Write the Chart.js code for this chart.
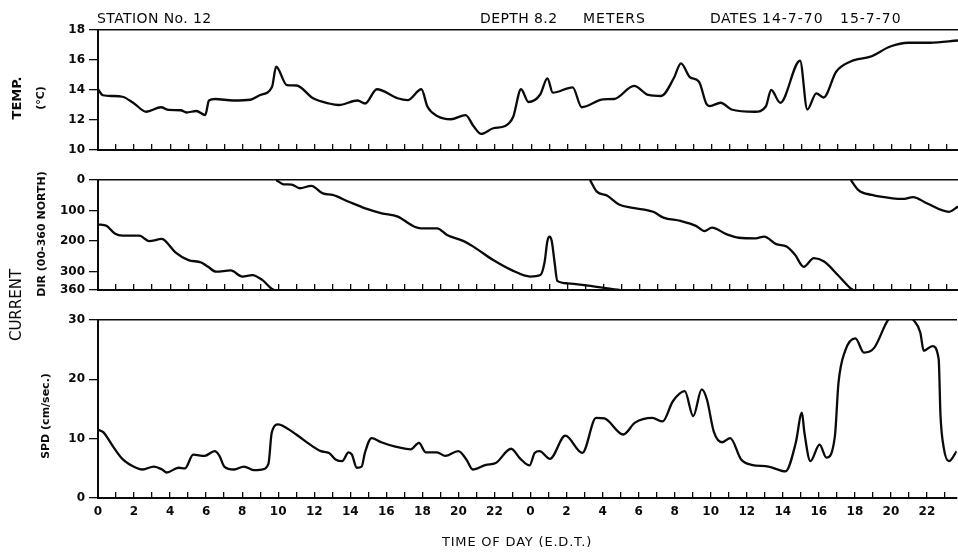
<!DOCTYPE html>
<html>
<head>
<meta charset="utf-8">
<script src="https://cdn.jsdelivr.net/npm/chart.js@4/dist/chart.umd.min.js"></script>
<style>
  html, body { margin: 0; padding: 0; background: #fff; }
  #wrap { position: relative; width: 958px; height: 553px; overflow: hidden; background: #fff; }
  canvas { position: absolute; left: 0; }
  .t { position: absolute; white-space: pre; color: #0a0a0a; font-family: "DejaVu Sans", sans-serif; line-height: 1; }
  .rot { transform: translate(-50%, -50%) rotate(-90deg); }
  .mid { transform: translateY(-50%); }
  .hd { font-size: 14px; letter-spacing: 0.4px; }
</style>
</head>
<body>
<div id="wrap">
  <canvas id="cTemp" width="958" height="165" style="top:0px"></canvas>
  <canvas id="cDir" width="958" height="140" style="top:165px"></canvas>
  <canvas id="cSpd" width="958" height="248" style="top:305px"></canvas>

  <div class="t mid hd" style="left:97px;top:18px;">STATION No. 12</div>
  <div class="t mid hd" style="left:480px;top:18px;">DEPTH 8.2</div>
  <div class="t mid hd" style="left:583px;top:18px;letter-spacing:1px;">METERS</div>
  <div class="t mid hd" style="left:710px;top:18px;">DATES</div>
  <div class="t mid hd" style="left:762px;top:18px;letter-spacing:1px;">14-7-70</div>
  <div class="t mid hd" style="left:840px;top:18px;letter-spacing:1px;">15-7-70</div>

  <div class="t rot" style="left:16px;top:98px;font-size:13px;font-weight:bold;">TEMP.</div>
  <div class="t rot" style="left:40px;top:98px;font-size:11px;font-weight:bold;">(°C)</div>
  <div class="t rot" style="left:16px;top:305px;font-size:15px;">CURRENT</div>
  <div class="t rot" style="left:41px;top:234px;font-size:11px;font-weight:bold;">DIR (00-360 NORTH)</div>
  <div class="t rot" style="left:45px;top:416px;font-size:11px;font-weight:bold;">SPD (cm/sec.)</div>

  <div class="t mid" style="left:442px;top:541px;font-size:13px;letter-spacing:0.8px;">TIME OF DAY (E.D.T.)</div>
</div>
<script>
// ---------------- DATA ----------------
const hourMin = 0;
const hourMax = 47.65;

// Temperature (°C)
const tempHours = [0, 0.27, 0.8, 1.36, 2.0, 2.67, 3.49, 3.92, 4.58, 4.9, 5.45, 5.94, 6.15, 6.48, 7.5, 8.44, 8.99, 9.64, 9.87, 10.46, 11.0, 11.92, 12.8, 13.34, 14.38, 14.8, 15.45, 16.6, 17.16, 17.92, 18.25, 18.79, 19.55, 20.37, 20.8, 21.24, 21.9, 22.56, 23.0, 23.44, 23.85, 24.5, 24.9, 25.2, 26.3, 26.8, 28.0, 28.6, 29.7, 30.5, 31.2, 31.9, 32.3, 32.8, 33.3, 33.7, 33.9, 34.5, 35.1, 36.4, 37.0, 37.3, 37.8, 38.9, 39.3, 39.8, 40.2, 40.9, 41.7, 42.8, 43.9, 44.9, 46.1, 47.65];
const tempValues = [14.05, 13.65, 13.6, 13.55, 13.1, 12.55, 12.85, 12.67, 12.65, 12.5, 12.6, 12.33, 13.3, 13.4, 13.3, 13.35, 13.67, 14.2, 15.55, 14.33, 14.3, 13.45, 13.1, 13.0, 13.3, 13.1, 14.05, 13.45, 13.33, 14.05, 12.9, 12.27, 12.05, 12.33, 11.6, 11.07, 11.45, 11.6, 12.2, 14.05, 13.2, 13.7, 14.78, 13.82, 14.18, 12.85, 13.38, 13.4, 14.27, 13.67, 13.6, 14.78, 15.78, 14.85, 14.55, 13.1, 12.93, 13.15, 12.7, 12.55, 12.9, 14.0, 13.15, 15.95, 12.7, 13.78, 13.5, 15.22, 15.9, 16.22, 16.9, 17.15, 17.15, 17.3];

// Current direction (degrees, 0-360 from north), wrapping segments
const dir1Hours = [0, 0.47, 0.93, 1.36, 2.29, 2.83, 3.54, 3.74, 4.29, 5.01, 5.72, 6.1, 6.54, 7.35, 8.0, 8.55, 9.1, 9.64, 9.8];
const dir1Values = [145, 150, 175, 182, 182, 200, 193, 200, 237, 262, 270, 284, 300, 296, 316, 311, 327, 357, 360];
const dir2Hours = [9.87, 10.28, 10.73, 11.18, 11.82, 12.46, 13.0, 13.89, 14.81, 15.72, 16.61, 17.54, 17.9, 18.79, 19.34, 20.26, 20.8, 21.9, 22.92, 23.95, 24.51, 24.74, 24.9, 25.02, 25.14, 25.3, 25.45, 26.03, 27.16, 28.49, 28.9];
const dir2Values = [0, 14, 15, 27, 19, 44, 49, 71, 93, 109, 120, 153, 158, 158, 180, 200, 218, 262, 295, 316, 311, 270, 200, 185, 200, 270, 330, 338, 346, 357, 360];
const dir3Hours = [27.26, 27.64, 28.2, 28.87, 29.63, 30.76, 31.33, 32.28, 33.13, 33.6, 34.02, 34.84, 35.5, 36.44, 36.91, 37.58, 38.15, 38.62, 39.1, 39.66, 40.23, 40.99, 41.65, 41.84];
const dir3Values = [0, 38, 51, 80, 91, 104, 123, 134, 150, 167, 156, 178, 189, 191, 185, 210, 218, 245, 284, 256, 267, 311, 352, 360];
const dir4Hours = [41.71, 42.13, 42.88, 44.02, 44.59, 45.16, 45.92, 47.15, 47.65];
const dir4Values = [0, 33, 49, 60, 62, 56, 76, 104, 87];

// Current speed (cm/sec)
const spdHours = [0, 0.29, 0.83, 1.38, 2.11, 2.47, 3.1, 3.56, 3.81, 4.47, 4.83, 5.28, 5.92, 6.47, 6.74, 7.01, 7.55, 8.1, 8.64, 9.1, 9.46, 9.64, 10.0, 10.46, 11.0, 11.91, 12.36, 12.82, 13.18, 13.55, 13.9, 14.09, 14.36, 14.63, 14.81, 15.18, 15.72, 16.45, 17.36, 17.81, 18.18, 18.81, 19.27, 19.99, 20.44, 20.8, 21.53, 22.07, 22.92, 23.44, 23.95, 24.23, 24.5, 25.08, 25.93, 26.88, 27.64, 28.1, 29.15, 29.8, 30.76, 31.33, 31.9, 32.56, 33.03, 33.5, 33.79, 34.17, 34.64, 35.08, 35.69, 36.26, 37.2, 38.15, 38.72, 39.06, 39.2, 39.53, 40.04, 40.42, 40.89, 41.09, 41.46, 42.03, 42.5, 43.07, 43.8, 44.5, 45.25, 45.63, 45.82, 46.3, 46.65, 46.75, 46.93, 47.22, 47.65];
const spdValues = [11.5, 11.1, 8.7, 6.5, 5.1, 4.8, 5.3, 4.8, 4.3, 5.1, 5.0, 7.3, 7.1, 7.9, 7.1, 5.3, 4.8, 5.3, 4.7, 4.8, 5.8, 11.0, 12.4, 11.8, 10.7, 8.7, 7.9, 7.6, 6.5, 6.2, 7.7, 7.3, 5.1, 5.3, 7.6, 10.1, 9.4, 8.7, 8.2, 9.3, 7.7, 7.7, 7.1, 7.9, 6.5, 4.8, 5.6, 5.9, 8.3, 6.6, 5.5, 7.6, 7.9, 6.6, 10.5, 7.6, 13.5, 13.4, 10.7, 12.7, 13.5, 12.9, 16.3, 18.0, 13.8, 18.3, 16.6, 11.2, 9.4, 10.1, 6.5, 5.6, 5.3, 4.5, 9.3, 14.4, 11.0, 6.2, 9.0, 6.8, 10.4, 19.4, 24.8, 26.9, 24.5, 25.3, 29.8, 32.0, 30.0, 27.9, 24.8, 25.6, 23.4, 14.0, 8.5, 6.2, 7.9];

// Tick values
const tempTicks = [10, 12, 14, 16, 18];
const dirTicks = [0, 100, 200, 300, 360];
const spdTicks = [0, 10, 20, 30];

// ---------------- RENDERING ----------------
const INK = '#0a0a0a';
const zip = (xs, ys) => xs.map((x, i) => ({ x: x, y: ys[i] }));

function lineSet(xs, ys) {
  return {
    data: zip(xs, ys),
    borderColor: INK,
    borderWidth: 2.3,
    pointRadius: 0,
    fill: false,
    cubicInterpolationMode: 'monotone',
    clip: 0
  };
}

function xAxis(height, showLabels) {
  return {
    type: 'linear',
    position: 'bottom',
    min: hourMin,
    max: hourMax,
    afterFit: s => { s.height = height; },
    afterBuildTicks: s => { s.ticks = s.ticks.filter(t => Number.isInteger(t.value)); },
    grid: { drawOnChartArea: false, drawTicks: true, tickLength: -6, color: INK, lineWidth: 1.3 },
    border: { display: true, color: INK, width: 2 },
    ticks: {
      display: showLabels,
      stepSize: 1,
      includeBounds: false,
      autoSkip: false,
      maxRotation: 0,
      minRotation: 0,
      padding: 13,
      color: INK,
      font: { family: '"DejaVu Sans", sans-serif', size: 12, weight: 'bold' },
      callback: v => (v % 2 === 0 ? String(v % 24) : '')
    }
  };
}

function topAxis() {
  return {
    type: 'linear',
    position: 'top',
    min: hourMin,
    max: hourMax,
    afterFit: s => { s.height = 0; },
    grid: { drawOnChartArea: false, drawTicks: false },
    border: { display: true, color: INK, width: 1.6 },
    ticks: { display: false }
  };
}

function yAxis(min, max, tickVals, reverse) {
  return {
    type: 'linear',
    min: min,
    max: max,
    reverse: !!reverse,
    afterFit: s => { s.width = 98; },
    afterBuildTicks: s => { s.ticks = tickVals.map(v => ({ value: v })); },
    grid: { drawOnChartArea: false, drawTicks: true, tickLength: 9, color: INK, lineWidth: 1.3 },
    border: { display: true, color: INK, width: 2 },
    ticks: {
      padding: 4,
      color: INK,
      autoSkip: false,
      font: { family: '"DejaVu Sans", sans-serif', size: 12, weight: 'bold' },
      callback: v => String(v)
    }
  };
}

function baseOptions(padTop, xHeight, showLabels, y) {
  return {
    responsive: false,
    animation: false,
    events: [],
    layout: { padding: { top: padTop, left: 0, right: 0, bottom: 0 } },
    plugins: { legend: { display: false }, tooltip: { enabled: false } },
    scales: { x: xAxis(xHeight, showLabels), x2: topAxis(), y: y }
  };
}

new Chart(document.getElementById('cTemp'), {
  type: 'line',
  data: { datasets: [lineSet(tempHours, tempValues)] },
  options: baseOptions(30, 15, false, yAxis(10, 18, tempTicks, false))
});

new Chart(document.getElementById('cDir'), {
  type: 'line',
  data: { datasets: [
    lineSet(dir1Hours, dir1Values),
    lineSet(dir2Hours, dir2Values),
    lineSet(dir3Hours, dir3Values),
    lineSet(dir4Hours, dir4Values)
  ] },
  options: baseOptions(15, 15, false, yAxis(0, 360, dirTicks, true))
});

new Chart(document.getElementById('cSpd'), {
  type: 'line',
  data: { datasets: [lineSet(spdHours, spdValues)] },
  options: baseOptions(15, 55, true, yAxis(0, 30, spdTicks, false))
});
</script>
</body>
</html>
